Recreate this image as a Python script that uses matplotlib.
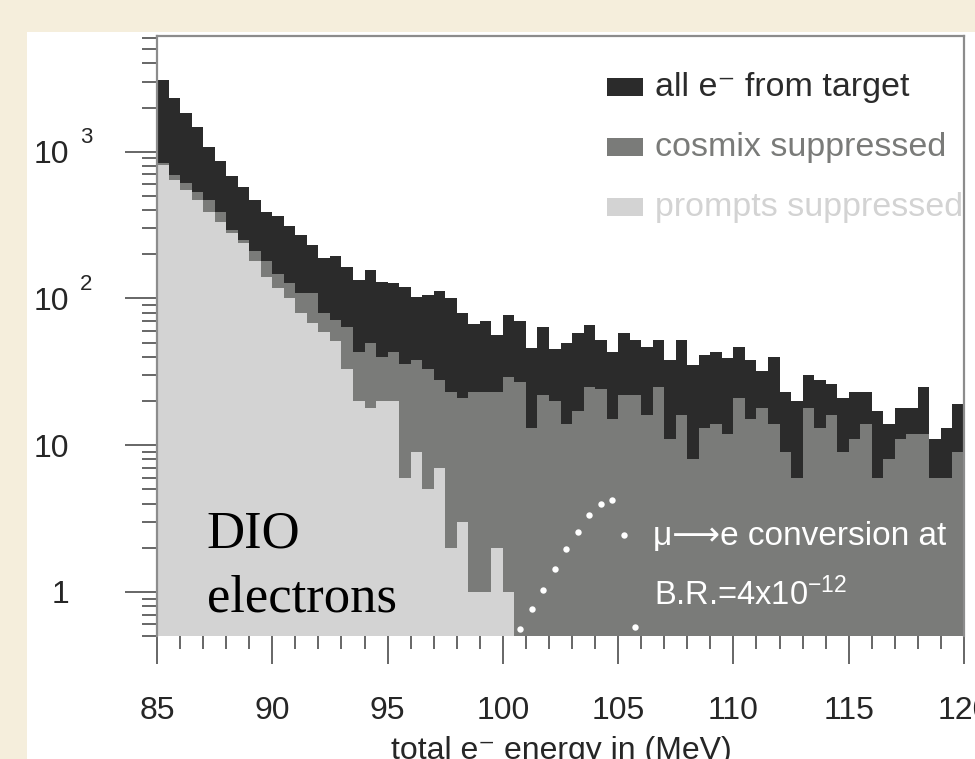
import numpy as np
import matplotlib
matplotlib.use("Agg")
import matplotlib.pyplot as plt
import matplotlib.transforms as mtransforms
from matplotlib.patches import Rectangle
from matplotlib.ticker import MultipleLocator, LogLocator, NullFormatter


# ============================================================
# DATA (0.5 MeV bins from 85 to 120 MeV)
# ============================================================

BIN_EDGES = np.linspace(85, 120, 71)

ALL_E = [3090, 2330, 1840, 1480, 1080, 858, 678, 574, 470, 391,
         362, 313, 271, 232, 188, 195, 165, 134, 157, 130,
         128, 120, 103, 106, 113, 100, 80, 67, 70, 56,
         77, 70, 46, 64, 45, 50, 58, 66, 52, 43,
         58, 52, 47, 52, 38, 52, 35, 41, 43, 39,
         47, 38, 32, 40, 23, 20, 30, 28, 26, 21,
         23, 23, 17, 14, 18, 18, 25, 11, 13, 19]

COSMIX = [836, 696, 611, 535, 470, 391, 292, 250, 209, 179,
          147, 127, 109, 109, 79, 71, 64, 43, 50, 40,
          43, 36, 38, 33, 28, 23, 21, 23, 23, 23,
          29, 27, 13, 22, 20, 14, 17, 25, 24, 15,
          22, 22, 16, 25, 11, 16, 8, 13, 14, 12,
          21, 15, 18, 14, 9, 6, 18, 13, 16, 9,
          11, 14, 6, 8, 11, 12, 12, 6, 6, 9]

# prompts suppressed: only filled up to 100.5 MeV
PROMPTS = [813, 643, 550, 470, 391, 334, 279, 238, 179, 141,
           118, 100, 79, 68, 59, 51, 33, 20, 18, 20,
           20, 6, 9, 5, 7, 2, 3, 1, 1, 2, 1]

# mu -> e conversion signal (dotted)
SIG_E = [100.75, 101.25, 101.75, 102.25, 102.75, 103.25,
         103.75, 104.25, 104.75, 105.25, 105.75]
SIG_N = [0.56, 0.76, 1.03, 1.43, 1.95, 2.55, 3.35, 4.0, 4.24, 2.45, 0.58]

X_TICKS = [85, 90, 95, 100, 105, 110, 115, 120]
Y_TICKS = [1, 10, 100, 1000]
Y_TICK_LABELS = ["1", "10", "10", "10"]
Y_TICK_EXP = ["", "", "2", "3"]

LEG_LABELS = ["all e\u207b from target", "cosmix suppressed", "prompts suppressed"]

C_ALL = "#2b2b2b"
C_COSMIX = "#7a7b79"
C_PROMPTS = "#d3d3d3"
C_TICK = "#666666"
C_TEXT = "#262626"


# ============================================================
# FIGURE
# ============================================================

plt.rcParams["font.family"] = ["Liberation Sans", "DejaVu Sans"]
plt.rcParams["mathtext.default"] = "regular"

W, H = 975, 759


def fx(px):
    return px / W


def fy(py):
    return 1 - py / H


fig = plt.figure(figsize=(W / 100, H / 100), dpi=100, facecolor="#f5eedc")

# white panel behind the plot
fig.patches.append(Rectangle((fx(27), 0), 1 - fx(27), fy(32),
                             transform=fig.transFigure, facecolor="white",
                             edgecolor="none", zorder=-1))

ax = fig.add_axes([fx(157), fy(636), fx(964) - fx(157), fy(36) - fy(636)])
ax.set_facecolor("white")
ax.set_yscale("log")

ax.stairs(ALL_E, BIN_EDGES, fill=True, baseline=0.1, color=C_ALL, lw=0)
ax.stairs(COSMIX, BIN_EDGES, fill=True, baseline=0.1, color=C_COSMIX, lw=0)
ax.stairs(PROMPTS, BIN_EDGES[:len(PROMPTS) + 1], fill=True, baseline=0.1,
          color=C_PROMPTS, lw=0)

ax.plot(SIG_E, SIG_N, "o", color="white", ms=4.6, mec="none", zorder=5)

ax.set_xlim(85, 120)
ax.set_ylim(0.5, 6150)

# ---- axes frame ----
for side in ["left", "top", "right"]:
    ax.spines[side].set_color("#8c8c8c")
    ax.spines[side].set_linewidth(1.6)
ax.spines["bottom"].set_visible(False)

# ---- ticks ----
ax.set_xticks(X_TICKS)
ax.xaxis.set_minor_locator(MultipleLocator(1))
ax.set_yticks(Y_TICKS, Y_TICK_LABELS)
ax.yaxis.set_minor_locator(LogLocator(base=10, subs=np.arange(2, 10), numticks=20))
ax.yaxis.set_minor_formatter(NullFormatter())

ax.tick_params(axis="x", which="major", direction="out", length=20, width=1.4,
               color=C_TICK, pad=23.5, labelsize=23, labelcolor=C_TEXT)
ax.tick_params(axis="x", which="minor", direction="out", length=9.4, width=1.4,
               color=C_TICK)
ax.tick_params(axis="y", which="major", direction="out", length=23, width=1.4,
               color=C_TICK, pad=40, labelsize=23, labelcolor=C_TEXT)
ax.tick_params(axis="y", which="minor", direction="out", length=10.8, width=1.4,
               color=C_TICK)

# exponents of the y tick labels (ROOT style "10 3")
exp_trans = (mtransforms.blended_transform_factory(fig.transFigure, ax.transData)
             + mtransforms.ScaledTranslation(0, 0.14, fig.dpi_scale_trans))
for t, e in zip(Y_TICKS, Y_TICK_EXP):
    if e:
        ax.text(fx(80), t, e, transform=exp_trans, fontsize=16,
                ha="left", va="center", color=C_TEXT)

# x axis title (partly cut by the bottom edge)
fig.text(fx(561), fy(759), "total e\u207b energy in (MeV)", ha="center",
         va="baseline", fontsize=23, color=C_TEXT)

# ---- legend ----
for i, (lab, col) in enumerate(zip(LEG_LABELS, [C_ALL, C_COSMIX, C_PROMPTS])):
    base = 96 + 60 * i
    fig.patches.append(Rectangle((fx(607), fy(base)), fx(36), 18 / H,
                                 transform=fig.transFigure, facecolor=col,
                                 edgecolor="none"))
    fig.text(fx(655), fy(base), lab, fontsize=24.5, color=col, va="baseline")

# ---- annotations ----
ax.text(87.15, 2.0, "DIO", family="Liberation Serif", fontsize=38,
        va="baseline", color="black")
ax.text(87.15, 0.73, "electrons", family="Liberation Serif", fontsize=38,
        va="baseline", color="black")

ax.text(106.5, 2.09, "\u03bc\u27f6e conversion at", fontsize=24,
        va="baseline", color="white")
ax.text(106.55, 0.815, "B.R.=4x10$^{-12}$", fontsize=23.5,
        va="baseline", color="white")

fig.savefig("out.png", dpi=100, facecolor=fig.get_facecolor())
